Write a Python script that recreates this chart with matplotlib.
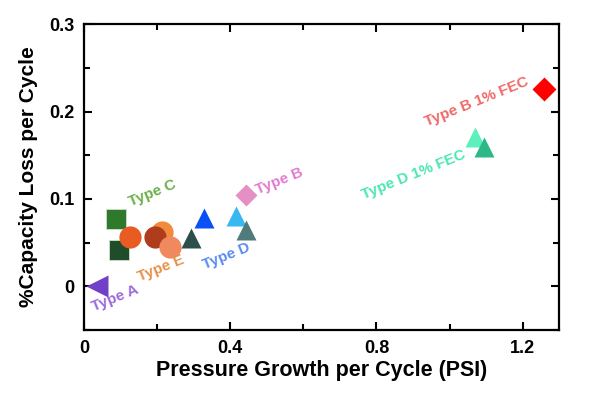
import matplotlib
matplotlib.use("Agg")
import matplotlib.pyplot as plt
from matplotlib.ticker import MultipleLocator, FuncFormatter

plt.rcParams["font.family"] = ["Liberation Sans", "DejaVu Sans"]
plt.rcParams["font.weight"] = "bold"

# pressure growth (PSI/cycle), capacity loss (%/cycle)
x_a = [0.035]
y_a = [0.0]
x_c = [0.087, 0.095]
y_c = [0.077, 0.042]
x_e = [0.125, 0.213, 0.193, 0.234]
y_e = [0.056, 0.062, 0.057, 0.045]
x_d = [0.294, 0.327, 0.417, 0.444]
y_d = [0.055, 0.078, 0.081, 0.065]
x_b = [0.444]
y_b = [0.105]
x_b_fec = [1.259]
y_b_fec = [0.226]
x_d_fec = [1.071, 1.093]
y_d_fec = [0.171, 0.159]

c_colors = ["#2f7a2a", "#1f4d2a"]
e_colors = ["#e85c24", "#f08a3c", "#b03c1e", "#f0895e"]
d_colors = ["#2c4f4c", "#0a50f5", "#38b8f0", "#4f7c7a"]
d_fec_colors = ["#5cf0bc", "#2db888"]

fig = plt.figure(figsize=(6, 3.94), dpi=100)
ax = fig.add_axes([0.14, 0.162, 0.792, 0.777])

ax.plot(x_a, y_a, marker="<", ms=16, color="#7040c8", ls="none", mec="none")
for x, y, c in zip(x_c, y_c, c_colors):
    ax.plot(x, y, marker="s", ms=15, color=c, ls="none", mec="#cfe0cf", mew=0.6)
for x, y, c in zip(x_e, y_e, e_colors):
    ax.plot(x, y, marker="o", ms=16, color=c, ls="none", mec="none")
for x, y, c in zip(x_d, y_d, d_colors):
    ax.plot(x, y, marker="^", ms=15, color=c, ls="none", mec="none")
ax.plot(x_b, y_b, marker="D", ms=11, color="#e58fc4", ls="none", mec="none")
ax.plot(x_b_fec, y_b_fec, marker="D", ms=12, color="#ff0000", ls="none", mec="none")
for x, y, c in zip(x_d_fec, y_d_fec, d_fec_colors):
    ax.plot(x, y, marker="^", ms=15, color=c, ls="none", mec="none")

labels = [
    ("Type A", 0.03, -0.032, "#9a6ad8"),
    ("Type C", 0.13, 0.088, "#6ab04a"),
    ("Type E", 0.155, 0.003, "#e8904a"),
    ("Type D", 0.335, 0.017, "#5a8cf0"),
    ("Type B", 0.48, 0.102, "#e27ad0"),
    ("Type B 1% FEC", 0.94, 0.18, "#f06868"),
    ("Type D 1% FEC", 0.77, 0.096, "#4ce6b4"),
]
for text, x, y, c in labels:
    ax.text(x, y, text, color=c, fontsize=11, fontweight="bold", rotation=22,
            ha="left", va="bottom", rotation_mode="anchor")

ax.set_xlim(0, 1.3)
ax.set_ylim(-0.05, 0.3)
ax.xaxis.set_major_locator(MultipleLocator(0.4))
ax.xaxis.set_minor_locator(MultipleLocator(0.2))
ax.yaxis.set_major_locator(MultipleLocator(0.1))
ax.yaxis.set_minor_locator(MultipleLocator(0.05))
fmt = FuncFormatter(lambda v, p: "0" if abs(v) < 1e-9 else f"{v:.1f}")
ax.xaxis.set_major_formatter(fmt)
ax.yaxis.set_major_formatter(fmt)
ax.tick_params(which="both", direction="in", top=True, right=True, width=1.5,
               labelsize=13)
ax.tick_params(which="major", length=6, pad=7)
ax.tick_params(which="minor", length=4)
for lbl in ax.get_xticklabels() + ax.get_yticklabels():
    lbl.set_fontweight("bold")
for s in ax.spines.values():
    s.set_linewidth(1.6)

ax.set_xlabel("Pressure Growth per Cycle (PSI)", fontsize=15.5, fontweight="bold",
              labelpad=2)
ax.set_ylabel("%Capacity Loss per Cycle", fontsize=15, fontweight="bold",
              labelpad=8)

fig.savefig("out.png", dpi=100)
